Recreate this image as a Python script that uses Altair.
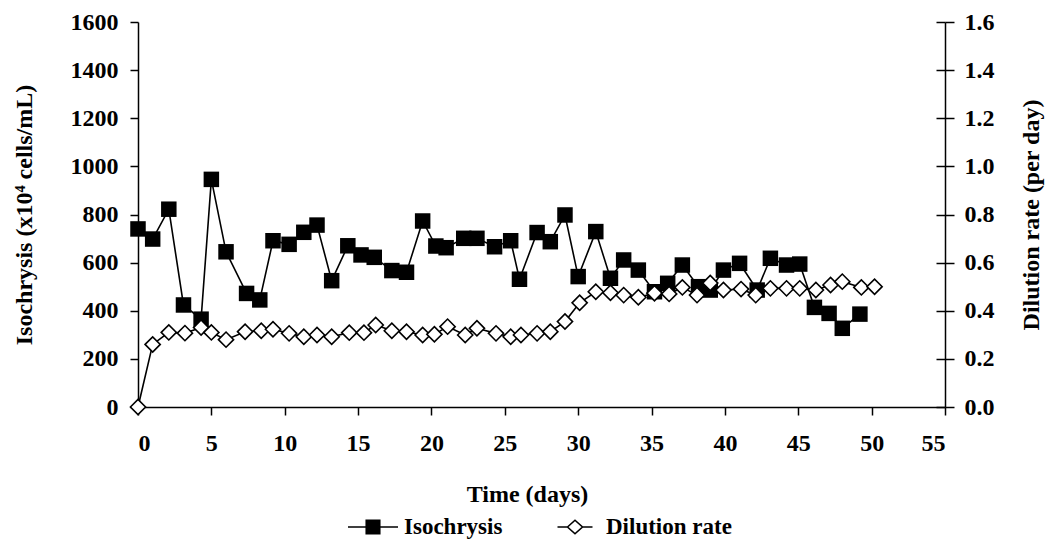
import altair as alt
import pandas as pd

# Isochrysis cell density (x10^4 cells/mL) vs time (days)
iso_day = [0.0, 1.0, 2.1, 3.1, 4.3, 5.0, 6.0, 7.4, 8.3, 9.2, 10.3, 11.3, 12.2, 13.2, 14.3,
           15.2, 16.1, 17.3, 18.3, 19.4, 20.3, 21.0, 22.2, 23.1, 24.3, 25.4, 26.0, 27.2,
           28.1, 29.1, 30.0, 31.2, 32.2, 33.1, 34.1, 35.2, 36.1, 37.1, 38.2, 39.0, 39.9,
           41.0, 42.2, 43.1, 44.2, 45.1, 46.1, 47.1, 48.0, 49.2]
iso_val = [740, 698, 822, 424, 365, 946, 645, 472, 445, 691, 676, 726, 756, 525, 670,
           632, 622, 567, 560, 773, 669, 662, 701, 701, 666, 691, 531, 725,
           687, 798, 542, 729, 535, 611, 569, 479, 514, 590, 500, 486, 569,
           597, 486, 618, 590, 594, 414, 389, 327, 386]

# Dilution rate (per day) vs time (days)
dil_day = [0.0, 1.0, 2.1, 3.2, 4.3, 5.0, 6.0, 7.3, 8.4, 9.2, 10.3, 11.3, 12.2, 13.2, 14.4,
           15.4, 16.2, 17.3, 18.3, 19.4, 20.2, 21.1, 22.3, 23.1, 24.4, 25.4, 26.1, 27.2,
           28.1, 29.1, 30.1, 31.2, 32.2, 33.1, 34.1, 35.2, 36.2, 37.1, 38.1, 39.0, 39.9,
           41.1, 42.1, 43.1, 44.2, 45.1, 46.2, 47.2, 48.0, 49.3, 50.2]
dil_val = [0.0, 0.26, 0.31, 0.307, 0.33, 0.31, 0.28, 0.313, 0.317, 0.323, 0.306, 0.292,
           0.299, 0.292, 0.309, 0.309, 0.341, 0.317, 0.313, 0.299, 0.302, 0.334, 0.299,
           0.327, 0.306, 0.292, 0.299, 0.306, 0.313, 0.355, 0.433, 0.479, 0.475, 0.465,
           0.456, 0.473, 0.470, 0.497, 0.465, 0.515, 0.486, 0.49, 0.465, 0.493, 0.493,
           0.493, 0.486, 0.507, 0.521, 0.497, 0.5]

series_names = ["Isochrysis", "Dilution rate"]
x_ticks = list(range(0, 56, 5))
left_ticks = list(range(0, 1601, 200))
right_ticks = [0.0, 0.2, 0.4, 0.6, 0.8, 1.0, 1.2, 1.4, 1.6]

iso_df = pd.DataFrame({"day": iso_day, "value": iso_val, "series": series_names[0]})
dil_df = pd.DataFrame({"day": dil_day, "value": dil_val, "series": series_names[1]})

FONT = "Liberation Serif"

x_enc = alt.X(
    "day:Q",
    scale=alt.Scale(domain=[0, 55], nice=False, zero=False),
    axis=alt.Axis(values=x_ticks, tickSize=8, labelPadding=16, labelFontSize=24,
                  title="Time (days)", titleFontSize=24, titleX=389, titleY=94,
                  titleBaseline="alphabetic", titleAnchor="middle"),
)

y_left = alt.Y(
    "value:Q",
    scale=alt.Scale(domain=[0, 1600], nice=False),
    axis=alt.Axis(values=left_ticks, format="d", tickSize=8, labelPadding=12,
                  labelFontSize=24, title="Isochrysis (x10\u2074 cells/mL)",
                  titleFontSize=24, titleX=-114, titleBaseline="middle", orient="left"),
)

y_right = alt.Y(
    "value:Q",
    scale=alt.Scale(domain=[0, 1.6], nice=False),
    axis=alt.Axis(values=right_ticks, format=".1f", tickSize=9, labelPadding=10,
                  labelFontSize=24, title="Dilution rate (per day)", titleFontSize=24,
                  titleAngle=270, titleX=86, titleBaseline="middle", orient="right"),
)

y_right_inner = alt.Y(
    "value:Q",
    scale=alt.Scale(domain=[0, 1.6], nice=False),
    axis=alt.Axis(values=right_ticks, tickSize=9, labels=False, domain=False,
                  title="", orient="right", offset=-9),
)

iso_base = alt.Chart(iso_df).encode(x=x_enc, y=y_left)
iso_layer = alt.layer(
    iso_base.mark_line(color="black", strokeWidth=1.6),
    iso_base.mark_point(shape="square", filled=True, size=240, color="black", opacity=1),
)

dil_base = alt.Chart(dil_df).encode(x=x_enc, y=y_right)
dil_layer = alt.layer(
    dil_base.mark_line(color="black", strokeWidth=1.6),
    dil_base.mark_point(shape="diamond", filled=False, size=230, stroke="black",
                        fill="white", fillOpacity=1, strokeWidth=1.6, opacity=1),
)

iso_path = "M-1,0L1,0M-0.27,-0.27L0.27,-0.27L0.27,0.27L-0.27,0.27Z"
dil_path = "M-0.7,0L-0.3,0M0.3,0L0.7,0M-0.3,0L0,-0.27L0.3,0L0,0.27Z"

legend = alt.Legend(orient="none", legendX=209, legendY=479, direction="horizontal",
                    title=None, symbolSize=2500, symbolStrokeColor="black",
                    symbolStrokeWidth=1.6, labelFont=FONT, labelFontWeight="bold",
                    labelFontSize=23, labelColor="black", labelOffset=5,
                    columnPadding=46, padding=0, labelLimit=400)

legend_layer = alt.Chart(dil_df).transform_filter("false").mark_point(
    filled=True, opacity=1, strokeWidth=1.6
).encode(
    x=x_enc,
    y=y_right_inner,
    shape=alt.Shape("series:N", scale=alt.Scale(domain=series_names,
                                                range=[iso_path, dil_path]), legend=legend),
    fill=alt.Fill("series:N", scale=alt.Scale(domain=series_names,
                                              range=["black", "white"]), legend=legend),
    stroke=alt.Stroke("series:N", scale=alt.Scale(domain=series_names,
                                                  range=["black", "black"]), legend=legend),
)

chart = alt.layer(iso_layer, dil_layer, legend_layer).resolve_scale(
    y="independent"
).properties(
    width=807, height=385,
    autosize=alt.AutoSizeParams(type="none"),
    padding={"left": 138, "top": 22, "right": 101, "bottom": 138},
    background="white",
).configure_view(stroke=None).configure_axis(
    labelFont=FONT, titleFont=FONT, labelFontWeight="bold", titleFontWeight="bold",
    labelColor="black", titleColor="black", domainColor="black", tickColor="black",
    domainWidth=1.5, tickWidth=1.5, grid=False,
)

chart.save("out.html", embed_options={"renderer": "svg", "actions": False})
